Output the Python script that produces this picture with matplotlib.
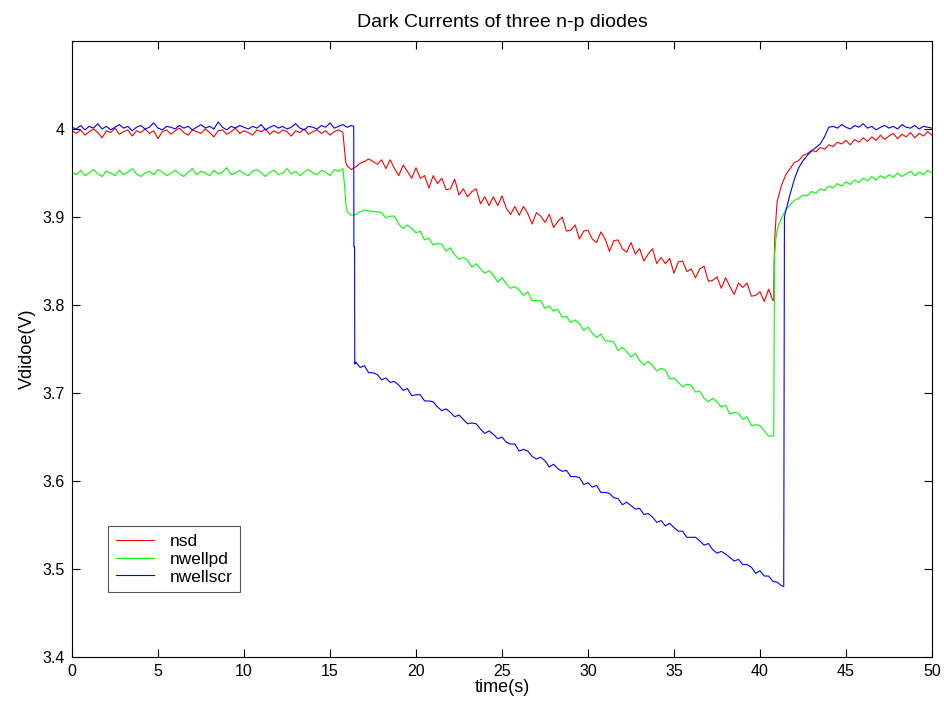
import numpy as np
import matplotlib
matplotlib.use("Agg")
import matplotlib.pyplot as plt

plt.rcParams['font.family'] = ['Liberation Sans', 'DejaVu Sans']

# ---------------- data (in mV) ----------------
# regular samples every 0.25 s from 0 to 50 s (201 samples)
sample_step_s = 0.25
n_samples = 201

nsd_mv = [
    # 0 - 15.75 s
    3998, 3995, 3999, 3993, 3997, 4000, 3996, 3990,
    3998, 3996, 4001, 3994, 3997, 3999, 3992, 3998,
    3996, 4000, 3995, 3998, 3989, 3997, 3999, 3994,
    3998, 4001, 3996, 3993, 3999, 3997, 3995, 4000,
    3996, 3991, 3998, 3999, 3994, 3997, 4001, 3995,
    3998, 3996, 3993, 3999, 3997, 4000, 3994, 3998,
    3995, 3999, 3997, 3992, 3998, 3996, 4000, 3994,
    3997, 3999, 3995, 3998, 3993, 3997, 3999, 3996,
    # 16 - 17.75 s
    3958, 3954, 3957, 3961, 3963, 3966, 3963, 3960,
    # 18 - 40.75 s
    3965, 3955, 3965, 3955, 3947, 3959, 3952, 3944,
    3956, 3944, 3947, 3933, 3947, 3938, 3944, 3931,
    3932, 3943, 3925, 3932, 3923, 3929, 3932, 3915,
    3923, 3913, 3923, 3913, 3924, 3910, 3903, 3912,
    3902, 3912, 3904, 3892, 3905, 3901, 3894, 3903,
    3888, 3895, 3900, 3884, 3885, 3891, 3875, 3884,
    3885, 3875, 3871, 3883, 3875, 3861, 3873, 3874,
    3864, 3860, 3871, 3858, 3864, 3850, 3858, 3864,
    3847, 3854, 3847, 3853, 3836, 3849, 3850, 3838,
    3841, 3831, 3841, 3844, 3827, 3828, 3832, 3819,
    3831, 3821, 3812, 3825, 3820, 3825, 3810, 3811,
    3815, 3804, 3818, 3805,
    # 41 - 50 s
    3918, 3936, 3948, 3955, 3962, 3964, 3970, 3972,
    3976, 3974, 3979, 3977, 3982, 3980, 3985, 3983,
    3987, 3982, 3988, 3985, 3990, 3986, 3991, 3987,
    3993, 3988, 3992, 3995, 3989, 3994, 3991, 3996,
    3990, 3995, 3992, 3997, 3993,
]
nsd_extra_t = [15.85, 15.92, 40.8, 40.82, 40.87, 40.95]
nsd_extra_mv = [3975, 3962, 3806, 3848, 3880, 3905]

nwellpd_mv = [
    # 0 - 15.75 s
    3951, 3948, 3953, 3947, 3950, 3954, 3949, 3946,
    3952, 3950, 3947, 3953, 3948, 3951, 3955, 3949,
    3946, 3950, 3952, 3948, 3954, 3951, 3947, 3950,
    3953, 3949, 3946, 3951, 3955, 3948, 3952, 3950,
    3947, 3953, 3949, 3951, 3956, 3948, 3950, 3953,
    3949, 3947, 3952, 3954, 3950, 3946, 3951, 3953,
    3948, 3950, 3955, 3949, 3952, 3947, 3951, 3954,
    3950, 3948, 3953, 3951, 3947, 3954, 3952, 3955,
    # 16 - 17.75 s
    3906, 3902, 3903, 3906, 3908, 3907, 3906, 3906,
    # 18 - 40.75 s
    3905, 3899, 3901, 3901, 3892, 3887, 3891, 3887,
    3882, 3884, 3874, 3876, 3868, 3870, 3869, 3861,
    3865, 3857, 3852, 3854, 3851, 3843, 3847, 3841,
    3836, 3839, 3834, 3826, 3831, 3824, 3819, 3821,
    3817, 3811, 3815, 3805, 3805, 3805, 3796, 3799,
    3793, 3795, 3786, 3787, 3780, 3783, 3779, 3771,
    3775, 3768, 3763, 3767, 3759, 3759, 3758, 3748,
    3752, 3747, 3741, 3745, 3737, 3732, 3736, 3731,
    3725, 3728, 3726, 3716, 3717, 3712, 3707, 3710,
    3709, 3701, 3702, 3694, 3690, 3694, 3690, 3684,
    3686, 3676, 3678, 3677, 3670, 3673, 3663, 3664,
    3663, 3657, 3651, 3651,
    # 41 - 50 s
    3886, 3899, 3908, 3914, 3919, 3921, 3925, 3924,
    3929, 3927, 3932, 3930, 3935, 3933, 3938, 3935,
    3940, 3937, 3942, 3939, 3944, 3941, 3946, 3942,
    3947, 3944, 3948, 3945, 3950, 3946, 3949, 3952,
    3947, 3951, 3948, 3953, 3950,
]
nwellpd_extra_t = [15.85, 15.92, 40.8, 40.82, 40.85, 40.92]
nwellpd_extra_mv = [3935, 3915, 3652, 3750, 3857, 3875]

nwellscr_mv = [
    # 0 - 16.25 s
    4002, 4000, 4004, 3999, 4003, 4001, 4006, 4000,
    4003, 3999, 4002, 4005, 4001, 4003, 3998, 4002,
    4004, 4000, 4002, 4007, 4001, 3999, 4003, 4002,
    4000, 4004, 4001, 4003, 3999, 4002, 4005, 4001,
    4003, 4000, 4008, 4002, 3999, 4003, 4001, 4004,
    4002, 4000, 4003, 4001, 4005, 3999, 4002, 4004,
    4001, 4003, 4000, 4002, 4006, 4001, 3999, 4003,
    4002, 4000, 4004, 4002, 4007, 4001, 4003, 4005,
    4002, 4004,
    # 16.5 - 41 s
    3735, 3729, 3731, 3723, 3723, 3721, 3715, 3717,
    3712, 3713, 3709, 3703, 3705, 3697, 3698, 3698,
    3691, 3691, 3690, 3684, 3680, 3682, 3678, 3673,
    3675, 3670, 3665, 3666, 3665, 3659, 3654, 3657,
    3653, 3648, 3650, 3644, 3642, 3642, 3634, 3636,
    3634, 3628, 3625, 3627, 3623, 3616, 3619, 3614,
    3611, 3612, 3605, 3605, 3604, 3596, 3598, 3593,
    3595, 3587, 3587, 3586, 3581, 3580, 3573, 3576,
    3572, 3568, 3569, 3562, 3563, 3559, 3553, 3555,
    3549, 3552, 3547, 3543, 3543, 3536, 3536, 3536,
    3532, 3527, 3529, 3522, 3518, 3520, 3517, 3513,
    3509, 3511, 3505, 3505, 3502, 3495, 3498, 3492,
    3492, 3486, 3485,
    # 41.25 s
    3481,
    # 41.5 - 44 s
    3907, 3926, 3943, 3956, 3964, 3970, 3975, 3979, 3983, 3991, 4002,
    # 44.25 - 50 s
    4003, 4001, 4005, 4002, 4000, 4004, 4002, 4006,
    4001, 4003, 3999, 4002, 4004, 4001, 4003, 4000,
    4005, 4002, 4001, 4004, 4000, 4003, 4002, 4001,
]
nwellscr_extra_t = [16.38, 16.39, 16.43, 16.44, 41.38, 41.42]
nwellscr_extra_mv = [4003, 3866, 3866, 3733, 3480, 3900]

series_names = ['nsd', 'nwellpd', 'nwellscr']
series_colors = ['#ff0000', '#00ff00', '#0000ff']

title_text = 'Dark Currents of three n-p diodes'
xlabel_text = 'time(s)'
ylabel_text = 'Vdidoe(V)'
xticks = [0, 5, 10, 15, 20, 25, 30, 35, 40, 45, 50]
yticks = [3.4, 3.5, 3.6, 3.7, 3.8, 3.9, 4.0]
ytick_labels = ['3.4', '3.5', '3.6', '3.7', '3.8', '3.9', '4']


def build(main_mv, extra_t, extra_mv):
    t = np.arange(n_samples) * sample_step_s
    tt = np.concatenate([t, np.asarray(extra_t, float)])
    vv = np.concatenate([np.asarray(main_mv, float), np.asarray(extra_mv, float)]) / 1000.0
    order = np.argsort(tt, kind='stable')
    return tt[order], vv[order]


data = [
    build(nsd_mv, nsd_extra_t, nsd_extra_mv),
    build(nwellpd_mv, nwellpd_extra_t, nwellpd_extra_mv),
    build(nwellscr_mv, nwellscr_extra_t, nwellscr_extra_mv),
]

# ---------------- figure ----------------
fig = plt.figure(figsize=(9.45, 7.04), dpi=100)
ax = fig.add_axes([72 / 945, 1 - 657 / 704, 860 / 945, 616 / 704])

for (t, v), name, col in zip(data, series_names, series_colors):
    ax.plot(t, v, color=col, lw=0.8, label=name)

ax.set_xlim(0, 50)
ax.set_ylim(3.4, 4.1)
ax.set_xticks(xticks)
ax.set_yticks(yticks)
ax.set_yticklabels(ytick_labels)
ax.tick_params(direction='in', length=6, width=0.8, top=True, right=True,
               labelsize=11.5, pad=5, colors='black')
for sp in ax.spines.values():
    sp.set_linewidth(0.8)
    sp.set_color('black')

ax.set_title(title_text, fontsize=14, pad=10)
ax.set_xlabel(xlabel_text, fontsize=13, labelpad=0)
ax.set_ylabel(ylabel_text, fontsize=13, labelpad=5)

leg = ax.legend(loc='lower left', bbox_to_anchor=(0.042, 0.105), borderaxespad=0,
                fontsize=12.5, fancybox=False, framealpha=1, edgecolor='#555555',
                handlelength=2.2, handletextpad=0.9, labelspacing=0.15,
                borderpad=0.45)
leg.get_frame().set_linewidth(0.8)

fig.savefig('out.png', dpi=100)
